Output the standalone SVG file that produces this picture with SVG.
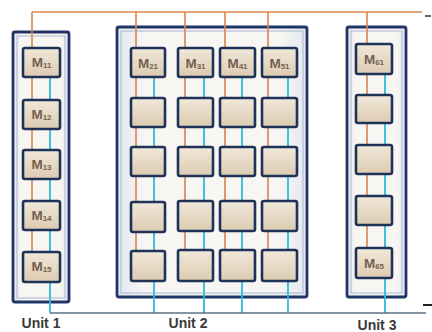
<svg xmlns="http://www.w3.org/2000/svg" width="432" height="332" viewBox="0 0 432 332">
  <defs>
    <linearGradient id="unitFill" x1="0" y1="0" x2="1" y2="0">
      <stop offset="0" stop-color="#e4e8f1"/>
      <stop offset="0.15" stop-color="#f8f6f2"/>
      <stop offset="0.85" stop-color="#f8f6f2"/>
      <stop offset="1" stop-color="#e4e8f1"/>
    </linearGradient>
    <linearGradient id="modFill" x1="0" y1="0" x2="0" y2="1">
      <stop offset="0" stop-color="#f1e8da"/>
      <stop offset="1" stop-color="#dccbb1"/>
    </linearGradient>
  </defs>
  <style>
    .unit { fill: url(#unitFill); stroke: #1f3566; stroke-width: 2.8; }
    .unitInner { fill: none; stroke: #a5b4d2; stroke-width: 1; }
    .mod { fill: url(#modFill); stroke: #1f3359; stroke-width: 2.6; }
    .pwr { stroke: #d9854f; stroke-width: 1.6; fill: none; }
    .sig { stroke: #2fbadb; stroke-width: 1.8; fill: none; }
    .bus { stroke: #5d6f82; stroke-width: 1.4; fill: none; }
    .mlabel { font-family: "Liberation Sans", Arial, sans-serif; font-size: 13.5px; fill: #76604f; font-weight: bold; text-anchor: middle; }
    .mlabel tspan.sub { font-size: 8px; }
    .ulabel { font-family: "Liberation Sans", Arial, sans-serif; font-size: 14px; font-weight: bold; fill: #3a3a3a; text-anchor: middle; }
  </style>

  <!-- unit enclosures -->
  <g id="unit1-box">
    <rect class="unit" x="13" y="32" width="56" height="270" rx="2"/>
    <rect class="unitInner" x="17" y="36" width="48" height="262"/>
  </g>
  <g id="unit2-box">
    <rect class="unit" x="117" y="27" width="190" height="270" rx="2"/>
    <rect class="unitInner" x="121" y="31" width="182" height="262"/>
  </g>
  <g id="unit3-box">
    <rect class="unit" x="347" y="27" width="59" height="270" rx="2"/>
    <rect class="unitInner" x="351" y="31" width="51" height="262"/>
  </g>

  <!-- power (orange) and signal (cyan) wiring -->
  <g id="connectors">
    <line class="pwr" x1="32" y1="12" x2="422" y2="12"/>
    <line class="pwr" x1="32" y1="12" x2="32" y2="252"/>
    <line class="pwr" x1="136" y1="12" x2="136" y2="250"/>
    <line class="pwr" x1="185" y1="12" x2="185" y2="250"/>
    <line class="pwr" x1="225" y1="12" x2="225" y2="250"/>
    <line class="pwr" x1="268" y1="12" x2="268" y2="250"/>
    <line class="pwr" x1="367" y1="12" x2="367" y2="248"/>

    <line class="sig" x1="50" y1="77" x2="50" y2="313"/>
    <line class="sig" x1="154" y1="77" x2="154" y2="313"/>
    <line class="sig" x1="204" y1="77" x2="204" y2="313"/>
    <line class="sig" x1="242" y1="77" x2="242" y2="313"/>
    <line class="sig" x1="288" y1="77" x2="288" y2="313"/>
    <line class="sig" x1="385" y1="74" x2="385" y2="313"/>

    <line class="bus" x1="50" y1="313" x2="426" y2="313"/>
    <line stroke="#333" stroke-width="1.5" x1="425" y1="16" x2="431" y2="16"/>
    <line stroke="#222" stroke-width="2" x1="423" y1="305" x2="432" y2="305"/>
  </g>

  <!-- Unit 1 modules -->
  <g id="M11"><rect class="mod" x="23" y="48" width="37" height="29" rx="2"/><text class="mlabel" x="41.5" y="67">M<tspan class="sub" dy="1">11</tspan></text></g>
  <g id="M12"><rect class="mod" x="23" y="100" width="37" height="29" rx="2"/><text class="mlabel" x="41.5" y="119">M<tspan class="sub" dy="1">12</tspan></text></g>
  <g id="M13"><rect class="mod" x="23" y="150" width="37" height="29" rx="2"/><text class="mlabel" x="41.5" y="169">M<tspan class="sub" dy="1">13</tspan></text></g>
  <g id="M14"><rect class="mod" x="23" y="201" width="37" height="29" rx="2"/><text class="mlabel" x="41.5" y="220">M<tspan class="sub" dy="1">14</tspan></text></g>
  <g id="M15"><rect class="mod" x="23" y="252" width="37" height="30" rx="2"/><text class="mlabel" x="41.5" y="271">M<tspan class="sub" dy="1">15</tspan></text></g>

  <!-- Unit 2 modules -->
  <g id="M21"><rect class="mod" x="131" y="48" width="34" height="29" rx="2"/><text class="mlabel" x="148" y="68">M<tspan class="sub" dy="1">21</tspan></text></g>
  <g id="M31"><rect class="mod" x="178" y="48" width="35" height="29" rx="2"/><text class="mlabel" x="195.5" y="68">M<tspan class="sub" dy="1">31</tspan></text></g>
  <g id="M41"><rect class="mod" x="220" y="48" width="35" height="29" rx="2"/><text class="mlabel" x="237.5" y="68">M<tspan class="sub" dy="1">41</tspan></text></g>
  <g id="M51"><rect class="mod" x="262" y="48" width="35" height="29" rx="2"/><text class="mlabel" x="279.5" y="68">M<tspan class="sub" dy="1">51</tspan></text></g>

  <g id="M22"><rect class="mod" x="131" y="98" width="34" height="29" rx="2"/></g>
  <g id="M32"><rect class="mod" x="178" y="98" width="35" height="29" rx="2"/></g>
  <g id="M42"><rect class="mod" x="220" y="98" width="35" height="29" rx="2"/></g>
  <g id="M52"><rect class="mod" x="262" y="98" width="35" height="29" rx="2"/></g>

  <g id="M23"><rect class="mod" x="131" y="147" width="34" height="29" rx="2"/></g>
  <g id="M33"><rect class="mod" x="178" y="147" width="35" height="29" rx="2"/></g>
  <g id="M43"><rect class="mod" x="220" y="147" width="35" height="29" rx="2"/></g>
  <g id="M53"><rect class="mod" x="262" y="147" width="35" height="29" rx="2"/></g>

  <g id="M24"><rect class="mod" x="131" y="202" width="34" height="30" rx="2"/></g>
  <g id="M34"><rect class="mod" x="178" y="201" width="35" height="30" rx="2"/></g>
  <g id="M44"><rect class="mod" x="220" y="201" width="35" height="30" rx="2"/></g>
  <g id="M54"><rect class="mod" x="262" y="201" width="35" height="30" rx="2"/></g>

  <g id="M25"><rect class="mod" x="131" y="251" width="34" height="30" rx="2"/></g>
  <g id="M35"><rect class="mod" x="178" y="250" width="35" height="31" rx="2"/></g>
  <g id="M45"><rect class="mod" x="220" y="250" width="35" height="31" rx="2"/></g>
  <g id="M55"><rect class="mod" x="262" y="250" width="35" height="31" rx="2"/></g>

  <!-- Unit 3 modules -->
  <g id="M61"><rect class="mod" x="356" y="44" width="36" height="30" rx="2"/><text class="mlabel" x="374" y="64">M<tspan class="sub" dy="1">61</tspan></text></g>
  <g id="M62"><rect class="mod" x="356" y="95" width="36" height="28" rx="2"/></g>
  <g id="M63"><rect class="mod" x="356" y="145" width="36" height="29" rx="2"/></g>
  <g id="M64"><rect class="mod" x="356" y="196" width="36" height="29" rx="2"/></g>
  <g id="M65"><rect class="mod" x="356" y="248" width="36" height="30" rx="2"/><text class="mlabel" x="374" y="268">M<tspan class="sub" dy="1">65</tspan></text></g>

  <!-- unit captions -->
  <g id="captions">
    <text class="ulabel" x="41" y="328">Unit 1</text>
    <text class="ulabel" x="188" y="328">Unit 2</text>
    <text class="ulabel" x="377" y="330">Unit 3</text>
  </g>
</svg>
